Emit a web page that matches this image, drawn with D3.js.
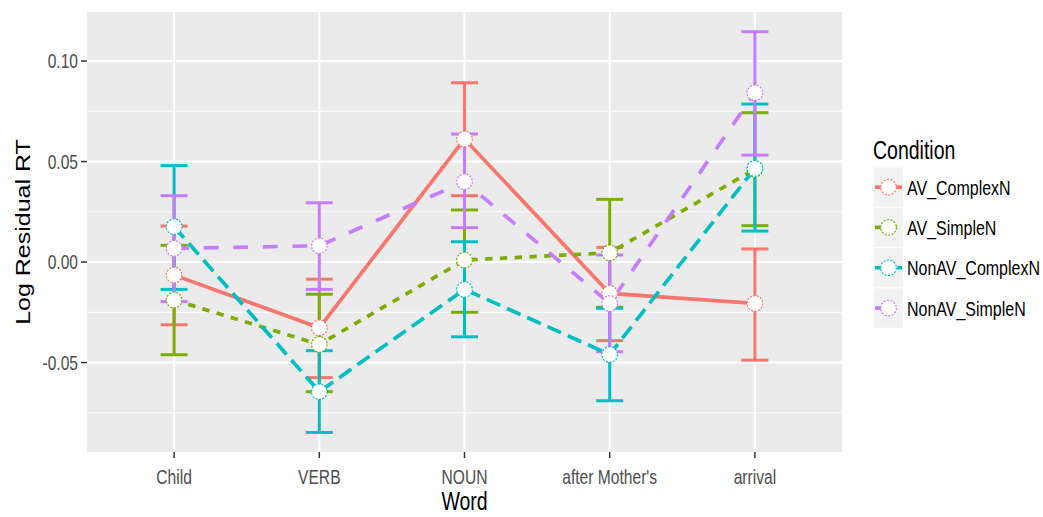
<!DOCTYPE html>
<html lang="en">
<head>
<meta charset="utf-8">
<title>Log Residual RT by Word</title>
<script src="https://cdn.jsdelivr.net/npm/d3@7"></script>
<style>
  body { margin: 0; background: #ffffff; }
  text { font-family: "Liberation Sans", Arial, sans-serif; }
</style>
</head>
<body>
<div id="chart"></div>
<script>
// data
var words = ["Child", "VERB", "NOUN", "after Mother's", "arrival"];
var conditions = ["AV_ComplexN", "AV_SimpleN", "NonAV_ComplexN", "NonAV_SimpleN"];
var colors = ["#F8766D", "#7CAE00", "#00BFC4", "#C77CFF"];
var dashes = ["", "2,2", "4,2", "4,4"];   // R linetypes solid, 22, 42, 44

var meanAVComplex    = [-0.0065, -0.0327, 0.0612, -0.0156, -0.0206];
var meanAVSimple     = [-0.0189, -0.0410, 0.0010,  0.0046,  0.0462];
var meanNonAVComplex = [ 0.0176, -0.0645, -0.0136, -0.0460, 0.0466];
var meanNonAVSimple  = [ 0.0068,  0.0081, 0.0400, -0.0206,  0.0842];

var lowAVComplex    = [-0.0312, -0.0575, 0.0330, -0.0391, -0.0488];
var lowAVSimple     = [-0.0461, -0.0645, -0.0250, -0.0225, 0.0181];
var lowNonAVComplex = [-0.0136, -0.0848, -0.0372, -0.0690, 0.0154];
var lowNonAVSimple  = [-0.0197, -0.0136, 0.0171, -0.0446,  0.0532];

var highAVComplex    = [ 0.0179, -0.0085, 0.0892,  0.0073, 0.0065];
var highAVSimple     = [ 0.0083, -0.0160, 0.0259,  0.0312, 0.0743];
var highNonAVComplex = [ 0.0480, -0.0441, 0.0101, -0.0230, 0.0786];
var highNonAVSimple  = [ 0.0330,  0.0295, 0.0637,  0.0035, 0.1146];

var yTicks = [-0.05, 0, 0.05, 0.10];
var yTickLabels = ["-0.05", "0.00", "0.05", "0.10"];
var yMinor = [-0.075, -0.025, 0.025, 0.075];

var means = [meanAVComplex, meanAVSimple, meanNonAVComplex, meanNonAVSimple];
var lows = [lowAVComplex, lowAVSimple, lowNonAVComplex, lowNonAVSimple];
var highs = [highAVComplex, highAVSimple, highNonAVComplex, highNonAVSimple];

var w = 1043, h = 517;
var pLeft = 87, pRight = 842, pTop = 12, pBottom = 452;
var sx = 0.78;       // the picture is squeezed sideways, so is the text
var unit = 3.7;      // dash unit (line width based)

var series = conditions.map(function(c, k) {
  return {
    name: c, color: colors[k],
    dash: dashes[k] ? dashes[k].split(",").map(function(v){ return +v * unit; }).join(",") : null,
    values: words.map(function(wd, i) {
      return { word: wd, mean: means[k][i], lo: lows[k][i], hi: highs[k][i] };
    })
  };
});

var svg = d3.select("#chart").append("svg")
  .attr("width", w).attr("height", h);

var x = d3.scalePoint().domain(words).range([pLeft, pRight]).padding(0.6);
var y = d3.scaleLinear().domain([-0.0945, 0.1244]).range([pBottom, pTop]);

function label(g, txt, tx, ty, anchor, size, fill, rot) {
  var t = g.append("text").text(txt)
    .attr("text-anchor", anchor)
    .attr("font-size", size)
    .attr("fill", fill)
    .attr("transform", "translate(" + tx + "," + ty + ") scale(" + sx + ",1)" + (rot ? " rotate(" + rot + ")" : ""));
  return t;
}

// panel
svg.append("rect").attr("x", pLeft).attr("y", pTop)
  .attr("width", pRight - pLeft).attr("height", pBottom - pTop)
  .attr("fill", "#EBEBEB");

svg.selectAll(".minor").data(yMinor).enter().append("line")
  .attr("x1", pLeft).attr("x2", pRight)
  .attr("y1", function(d){ return y(d); }).attr("y2", function(d){ return y(d); })
  .attr("stroke", "#ffffff").attr("stroke-width", 1);

svg.selectAll(".major").data(yTicks).enter().append("line")
  .attr("x1", pLeft).attr("x2", pRight)
  .attr("y1", function(d){ return y(d); }).attr("y2", function(d){ return y(d); })
  .attr("stroke", "#ffffff").attr("stroke-width", 2);

svg.selectAll(".vmajor").data(words).enter().append("line")
  .attr("y1", pTop).attr("y2", pBottom)
  .attr("x1", function(d){ return x(d); }).attr("x2", function(d){ return x(d); })
  .attr("stroke", "#ffffff").attr("stroke-width", 2);

// axes
var yAxis = svg.append("g");
yTicks.forEach(function(t, i) {
  yAxis.append("line").attr("x1", pLeft - 6).attr("x2", pLeft)
    .attr("y1", y(t)).attr("y2", y(t)).attr("stroke", "#333333").attr("stroke-width", 1.5);
  label(yAxis, yTickLabels[i], pLeft - 9, y(t) + 7, "end", 20, "#4D4D4D");
});
var xAxis = svg.append("g");
words.forEach(function(wd) {
  xAxis.append("line").attr("x1", x(wd)).attr("x2", x(wd))
    .attr("y1", pBottom).attr("y2", pBottom + 6).attr("stroke", "#333333").attr("stroke-width", 1.5);
  label(xAxis, wd, x(wd), 484, "middle", 20, "#4D4D4D");
});
label(svg, "Word", (pLeft + pRight) / 2, 510, "middle", 25, "#000000");
label(svg, "Log Residual RT", 30, (pTop + pBottom) / 2, "middle", 25, "#000000", -90);

// error bars
var capW = 13.5;
series.forEach(function(s) {
  var g = svg.append("g");
  g.selectAll("line.v").data(s.values).enter().append("line")
    .attr("x1", function(d){ return x(d.word); }).attr("x2", function(d){ return x(d.word); })
    .attr("y1", function(d){ return y(d.lo); }).attr("y2", function(d){ return y(d.hi); })
    .attr("stroke", s.color).attr("stroke-width", 3);
  ["lo", "hi"].forEach(function(k) {
    g.selectAll("line." + k).data(s.values).enter().append("line")
      .attr("x1", function(d){ return x(d.word) - capW; }).attr("x2", function(d){ return x(d.word) + capW; })
      .attr("y1", function(d){ return y(d[k]); }).attr("y2", function(d){ return y(d[k]); })
      .attr("stroke", s.color).attr("stroke-width", 3);
  });
});

// lines
var line = d3.line().x(function(d){ return x(d.word); }).y(function(d){ return y(d.mean); });
series.forEach(function(s) {
  svg.append("path").datum(s.values)
    .attr("d", line)
    .attr("fill", "none")
    .attr("stroke", s.color)
    .attr("stroke-width", 3.7)
    .attr("stroke-dasharray", s.dash);
});

// points
series.forEach(function(s) {
  svg.append("g").selectAll("circle").data(s.values).enter().append("circle")
    .attr("cx", function(d){ return x(d.word); })
    .attr("cy", function(d){ return y(d.mean); })
    .attr("r", 7.8)
    .attr("fill", "#ffffff")
    .attr("stroke", s.color)
    .attr("stroke-width", 1.2)
    .attr("stroke-dasharray", "2,1.5");
});

// legend
var lg = svg.append("g");
label(lg, "Condition", 873, 159, "start", 25, "#000000");
var keyTop = 167, keyH = 40.3, keyX = 874, keyW = 29;
series.forEach(function(s, i) {
  var ky = keyTop + i * keyH;
  var cy = ky + keyH / 2;
  lg.append("rect").attr("x", keyX).attr("y", ky + 0.5)
    .attr("width", keyW).attr("height", keyH - 1).attr("fill", "#F2F2F2");
  lg.append("line").attr("x1", keyX + 1).attr("x2", keyX + keyW - 1)
    .attr("y1", cy).attr("y2", cy)
    .attr("stroke", s.color).attr("stroke-width", 3.7)
    .attr("stroke-dasharray", s.dash);
  lg.append("circle").attr("cx", keyX + keyW / 2).attr("cy", cy).attr("r", 7.8)
    .attr("fill", "#ffffff").attr("stroke", s.color)
    .attr("stroke-width", 1.2).attr("stroke-dasharray", "2,1.5");
  label(lg, s.name, 907, cy + 7.5, "start", 20.5, "#000000");
});
</script>
</body>
</html>
